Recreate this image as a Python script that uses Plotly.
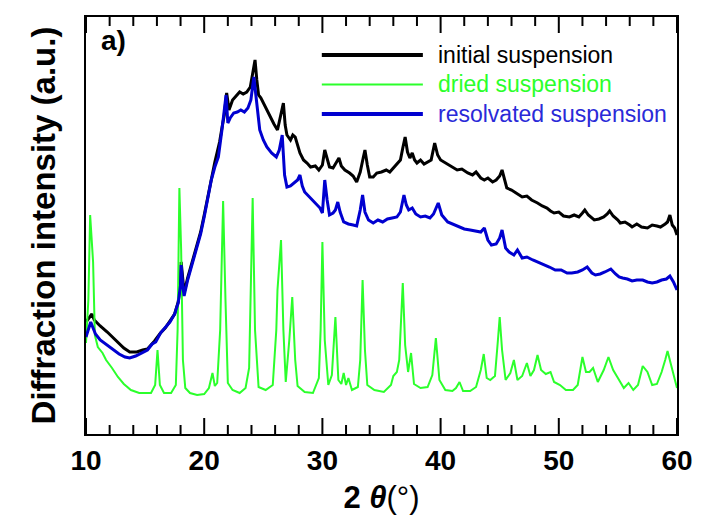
import plotly.graph_objects as go

# Diffraction patterns: 2-theta (degrees) and intensity (arbitrary units)
two_theta_initial = [
    10.0, 10.3, 10.5, 10.7, 11.2, 11.8, 12.3, 12.8, 13.2, 13.7, 14.3, 14.8, 15.2, 15.8,
    16.3, 16.7, 17.1, 17.5, 17.8, 18.0, 18.05, 18.2, 18.3, 18.6, 19.0, 19.3, 19.7, 20.0,
    20.3, 20.6, 20.9, 21.1, 21.3, 21.5, 21.7, 21.9, 22.1, 22.4, 22.7, 23.0, 23.3, 23.6,
    23.9, 24.1, 24.3, 24.45, 24.6, 24.8, 25.0, 25.3, 25.6, 25.9, 26.2, 26.45, 26.7, 26.85,
    27.0, 27.3, 27.5, 27.7, 27.9, 28.1, 28.4, 28.7, 29.0, 29.4, 29.7, 30.0, 30.2, 30.4,
    30.6, 30.9, 31.2, 31.4, 31.6, 31.9, 32.3, 32.6, 32.9, 33.2, 33.45, 33.6, 33.8, 34.0,
    34.3, 34.6, 35.0, 35.4, 35.7, 36.0, 36.3, 36.6, 36.8, 37.0, 37.2, 37.4, 37.6, 37.8,
    38.0, 38.3, 38.6, 38.9, 39.2, 39.5, 39.75, 40.0, 40.4, 40.7, 41.0, 41.4, 41.8, 42.3,
    42.7, 43.0, 43.4, 43.7, 44.0, 44.4, 44.7, 45.0, 45.2, 45.4, 45.6, 46.0, 46.4, 46.9,
    47.3, 47.7, 48.2, 48.6, 49.0, 49.3, 49.6, 50.0, 50.4, 50.9, 51.3, 51.7, 52.0, 52.2,
    52.5, 52.8, 53.0, 53.4, 53.8, 54.1, 54.3, 54.6, 55.0, 55.2, 55.6, 56.0, 56.2, 56.6,
    57.0, 57.5, 57.9, 58.3, 58.6, 59.0, 59.2, 59.4, 59.6, 59.8, 60.0,
]
intensity_initial = [
    112, 117, 120, 114, 108, 102, 96, 91, 86, 82, 82, 84, 85, 93,
    101, 106, 113, 120, 132, 151, 172, 149, 141, 156, 172, 186, 202, 219,
    237, 256, 272, 282, 292, 306, 319, 341, 324, 334, 338, 342, 340, 342,
    347, 362, 374, 354, 339, 336, 331, 324, 317, 310, 304, 316, 331, 309,
    299, 294, 299, 297, 288, 281, 274, 271, 267, 268, 264, 269, 284, 274,
    267, 266, 272, 276, 268, 264, 261, 258, 252, 262, 276, 284, 269, 257,
    257, 261, 262, 264, 262, 266, 269, 274, 286, 297, 282, 276, 281, 274,
    271, 274, 270, 272, 274, 291, 279, 274, 271, 269, 267, 264, 265, 261,
    259, 262, 256, 254, 256, 252, 254, 258, 264, 254, 246, 244, 241, 237,
    238, 234, 231, 228, 226, 223, 221, 222, 218, 217, 219, 217, 221, 224,
    219, 216, 214, 215, 217, 220, 223, 218, 214, 211, 212, 209, 207, 210,
    207, 206, 209, 208, 207, 210, 212, 219, 209, 206, 199,
]

two_theta_dried = [
    10.0, 10.2, 10.35, 10.5, 10.6, 10.75, 11.0, 11.4, 11.7, 12.2, 12.7, 13.2, 13.8, 14.5,
    15.0, 15.5, 15.85, 16.05, 16.25, 16.6, 17.2, 17.6, 17.75, 17.9, 18.05, 18.2, 18.4, 18.8,
    19.4, 20.0, 20.4, 20.7, 20.9, 21.1, 21.35, 21.6, 21.8, 22.0, 22.4, 23.0, 23.5, 23.8,
    24.1, 24.3, 24.6, 25.2, 25.8, 26.1, 26.2, 26.5, 26.7, 26.9, 27.2, 27.45, 27.7, 27.9,
    28.5, 29.2, 29.7, 29.85, 30.0, 30.2, 30.5, 30.8, 31.1, 31.35, 31.6, 31.8, 32.0, 32.2,
    32.5, 33.0, 33.2, 33.4, 33.6, 33.8, 34.4, 35.2, 35.8, 36.0, 36.3, 36.5, 36.8, 37.0,
    37.25, 37.5, 37.75, 38.3, 38.9, 39.3, 39.6, 39.9, 40.4, 41.0, 41.3, 41.6, 41.9, 42.5,
    43.0, 43.4, 43.65, 43.9, 44.2, 44.6, 44.85, 45.0, 45.2, 45.5, 45.9, 46.2, 46.5, 46.9,
    47.3, 47.6, 47.9, 48.2, 48.5, 48.9, 49.3, 49.6, 50.1, 50.6, 51.2, 51.6, 52.0, 52.3,
    52.6, 52.9, 53.3, 53.8, 54.2, 54.6, 55.0, 55.5, 55.9, 56.3, 56.7, 57.1, 57.5, 57.9,
    58.3, 58.7, 59.0, 59.2, 59.5, 60.0,
]
intensity_dried = [
    91, 134, 219, 184, 172, 99, 87, 81, 74, 66, 57, 50, 44, 41,
    41, 41, 49, 84, 49, 41, 41, 49, 104, 246, 184, 74, 46, 41,
    39, 40, 46, 61, 48, 51, 104, 233, 134, 51, 44, 41, 46, 66,
    236, 104, 47, 44, 49, 104, 144, 194, 104, 52, 94, 137, 74, 48,
    42, 41, 56, 104, 192, 94, 49, 59, 117, 54, 50, 61, 49, 56,
    44, 47, 74, 154, 84, 49, 44, 42, 49, 58, 62, 74, 151, 89,
    62, 81, 50, 46, 47, 59, 96, 54, 44, 43, 46, 52, 43, 43,
    47, 64, 80, 56, 54, 58, 94, 117, 84, 54, 61, 74, 54, 58,
    71, 58, 64, 79, 64, 60, 62, 52, 49, 44, 44, 49, 77, 62,
    62, 66, 52, 64, 77, 64, 56, 46, 51, 44, 49, 68, 62, 49,
    50, 62, 74, 83, 69, 46,
]

two_theta_resolvated = [
    10.0, 10.2, 10.4, 10.6, 10.8, 11.2, 11.8, 12.3, 12.8, 13.3, 13.7, 14.2, 14.7, 15.2,
    15.6, 15.9, 16.3, 16.7, 17.1, 17.5, 17.8, 18.0, 18.05, 18.2, 18.3, 18.6, 19.0, 19.3,
    19.7, 20.0, 20.3, 20.6, 20.9, 21.2, 21.5, 21.7, 21.85, 22.0, 22.2, 22.5, 22.8, 23.1,
    23.4, 23.7, 23.95, 24.2, 24.4, 24.7, 25.0, 25.3, 25.7, 26.1, 26.35, 26.6, 26.8, 27.0,
    27.3, 27.6, 27.9, 28.1, 28.3, 28.5, 28.9, 29.4, 29.8, 30.0, 30.1, 30.2, 30.4, 30.6,
    30.9, 31.1, 31.3, 31.5, 31.8, 32.2, 32.6, 32.9, 33.2, 33.4, 33.6, 33.9, 34.3, 34.7,
    35.1, 35.5, 35.9, 36.3, 36.6, 36.9, 37.1, 37.3, 37.6, 37.9, 38.3, 38.7, 39.1, 39.4,
    39.8, 40.1, 40.6, 41.0, 41.5, 42.0, 42.5, 43.0, 43.4, 43.7, 44.0, 44.3, 44.7, 45.0,
    45.2, 45.5, 45.8, 46.2, 46.5, 46.9, 47.3, 47.8, 48.2, 48.7, 49.2, 49.7, 50.2, 50.7,
    51.1, 51.6, 52.0, 52.4, 52.8, 53.1, 53.5, 53.9, 54.4, 54.8, 55.1, 55.4, 55.8, 56.2,
    56.6, 57.1, 57.5, 57.9, 58.3, 58.7, 59.1, 59.4, 59.7, 60.0,
]
intensity_resolvated = [
    97, 104, 112, 106, 100, 94, 89, 84, 80, 77, 76, 78, 81, 84,
    90, 92, 101, 106, 112, 120, 131, 149, 169, 147, 138, 154, 170, 184,
    200, 217, 235, 254, 267, 277, 304, 321, 339, 311, 316, 321, 322, 324,
    322, 326, 334, 357, 334, 304, 294, 287, 281, 277, 284, 299, 259, 247,
    248, 251, 254, 259, 248, 242, 237, 231, 226, 221, 239, 254, 234, 219,
    221, 224, 232, 222, 212, 210, 209, 208, 224, 239, 222, 214, 211, 214,
    212, 215, 216, 217, 222, 239, 229, 224, 226, 220, 217, 218, 216, 220,
    231, 219, 212, 210, 208, 205, 204, 203, 202, 206, 194, 189, 190, 196,
    204, 186, 182, 179, 184, 176, 177, 174, 172, 170, 167, 164, 164, 161,
    161, 162, 164, 167, 161, 159, 160, 162, 165, 160, 157, 156, 155, 153,
    154, 154, 152, 151, 152, 154, 155, 158, 152, 144,
]

# Tick positions on the 2-theta axis
major_ticks = [10, 20, 30, 40, 50, 60]
minor_ticks = [12, 14, 16, 18, 22, 24, 26, 28, 32, 34, 36, 38,
               42, 44, 46, 48, 52, 54, 56, 58]

series_names = ["initial suspension", "dried suspension", "resolvated suspension"]
series_colors = ["#000000", "#2bff2b", "#0000d0"]
label_colors = ["#000000", "#2bff2b", "#2a2ad8"]
series_widths = [3, 2, 3]
series_data = [
    (two_theta_initial, intensity_initial),
    (two_theta_dried, intensity_dried),
    (two_theta_resolvated, intensity_resolvated),
]

font_family = "Liberation Sans, Arial, sans-serif"
y_top = 417  # intensity range spans the full frame height (1 unit per pixel)

fig = go.Figure()
for name, (x, y), color, width in zip(series_names, series_data, series_colors, series_widths):
    fig.add_trace(go.Scatter(
        x=x, y=y, mode="lines", name=name, showlegend=False,
        line=dict(color=color, width=width),
    ))

# Inward tick marks along the bottom and top edges, drawn as one segmented line
tick_x, tick_y = [], []
for values, length in ((major_ticks, 16), (minor_ticks, 9)):
    for t in values:
        tick_x += [t, t, None, t, t, None]
        tick_y += [0, length, None, y_top, y_top - length, None]
fig.add_trace(go.Scatter(
    x=tick_x, y=tick_y, mode="lines", showlegend=False, hoverinfo="skip",
    line=dict(color="#000000", width=2), cliponaxis=False,
))

shapes = []
annotations = []

# Key in the upper right: a line sample and a coloured label per series
key_top, key_step = 0.909, 0.0707
for i, (name, color, tcolor, width) in enumerate(
        zip(series_names, series_colors, label_colors, series_widths)):
    yk = key_top - i * key_step
    shapes.append(dict(type="line", xref="paper", yref="paper",
                       x0=0.399, x1=0.57, y0=yk, y1=yk,
                       line=dict(color=color, width=width + 1 if width == 3 else width)))
    annotations.append(dict(x=0.593, y=yk, xref="paper", yref="paper",
                            xanchor="left", yanchor="middle", showarrow=False,
                            text=name, font=dict(size=23, family=font_family, color=tcolor)))

annotations.append(dict(
    x=0.022, y=0.985, xref="paper", yref="paper", xanchor="left", yanchor="top",
    text="<b>a)</b>", showarrow=False, font=dict(size=28, family=font_family),
))

fig.update_layout(
    template="none",
    width=701, height=525,
    margin=dict(l=86, r=24, t=17, b=91, autoexpand=False),
    paper_bgcolor="white", plot_bgcolor="white",
    font=dict(family=font_family, color="black"),
    shapes=shapes, annotations=annotations,
    showlegend=False,
    xaxis=dict(
        range=[10, 60], tickmode="array", tickvals=major_ticks,
        ticks="", showline=True, linewidth=2, linecolor="#000000", mirror=True,
        showgrid=False, zeroline=False, automargin=False,
        tickfont=dict(size=28, family=font_family, weight="bold"),
        title=dict(
            text="<b>2 </b><b><i>θ</i></b>(°)",
            font=dict(size=31, family=font_family), standoff=12,
        ),
    ),
    yaxis=dict(
        range=[0, y_top], showticklabels=False, ticks="",
        showline=True, linewidth=2, linecolor="#000000", mirror=True,
        showgrid=False, zeroline=False, automargin=False,
        title=dict(
            text="<b>Diffraction intensity (a.u.)</b>",
            font=dict(size=33, family=font_family), standoff=18,
        ),
    ),
)

fig.write_html("out.html")
